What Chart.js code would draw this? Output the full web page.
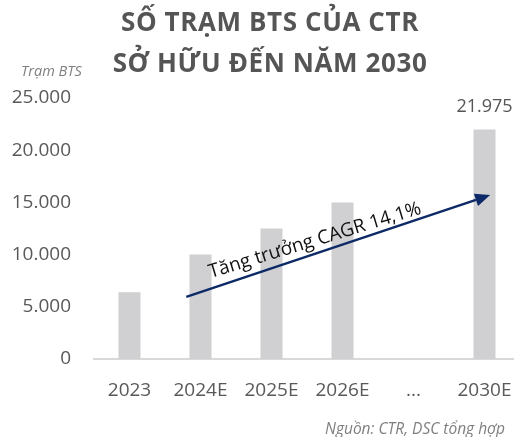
<!DOCTYPE html>
<html>
<head>
<meta charset="utf-8">
<script src="https://cdn.jsdelivr.net/npm/chart.js@4.4.1/dist/chart.umd.min.js"></script>
<style>
  html, body { margin: 0; padding: 0; background: #fff; overflow: hidden; }
  #wrap { position: relative; width: 514px; height: 437px; overflow: hidden; }
  .t { position: absolute; font-family: "Open Sans", sans-serif; white-space: nowrap; }
  #title { left: 0; width: 540px; top: 1px; text-align: center; font-weight: 700; font-size: 26px; letter-spacing: 0.6px; line-height: 41px; color: #555; }
  #unit { left: 21px; top: 61px; font-style: italic; font-size: 14.5px; color: #7f7f7f; }
  #src { left: 325px; top: 417px; font-style: italic; font-size: 15.5px; color: #7f7f7f; }
</style>
</head>
<body>
<div id="wrap">
  <canvas id="chart" width="520" height="437"></canvas>
  <div class="t" id="title">SỐ TRẠM BTS CỦA CTR<br>SỞ HỮU ĐẾN NĂM 2030</div>
  <div class="t" id="unit">Trạm BTS</div>
  <div class="t" id="src">Nguồn: CTR, DSC tổng hợp</div>
</div>
<script>
// data
const years = ['2023', '2024E', '2025E', '2026E', '...', '2030E'];
const stations = [6400, 10000, 12500, 15000, null, 21975];
const showLabel = [false, false, false, false, false, true];
const yTicks = [0, 5000, 10000, 15000, 20000, 25000];

// CAGR arrow, in (category index, value) units
const arrowFrom = [0.8, 5950];
const arrowTo = [5.08, 15700];
const arrowText = 'Tăng trưởng CAGR 14,1%';
const textAt = [1.145, 7750];

const fmt = v => String(v).replace(/\B(?=(\d{3})+(?!\d))/g, '.');

const extras = {
  id: 'extras',
  afterDatasetsDraw(chart) {
    const ctx = chart.ctx;
    const x = chart.scales.x, y = chart.scales.y;
    const meta = chart.getDatasetMeta(0);

    // value label above bar
    ctx.save();
    ctx.font = '18px "Open Sans"';
    ctx.fillStyle = '#555';
    ctx.textAlign = 'center';
    ctx.textBaseline = 'bottom';
    stations.forEach((v, i) => {
      if (!showLabel[i] || v == null) return;
      const bar = meta.data[i];
      ctx.fillText(fmt(v), bar.x, bar.y - 14);
    });
    ctx.restore();

    // arrow
    const x1 = x.getPixelForValue(arrowFrom[0]), y1 = y.getPixelForValue(arrowFrom[1]);
    const x2 = x.getPixelForValue(arrowTo[0]), y2 = y.getPixelForValue(arrowTo[1]);
    const ang = Math.atan2(y2 - y1, x2 - x1);
    const head = 15, half = 6.5;
    ctx.save();
    ctx.strokeStyle = '#0c2a68';
    ctx.fillStyle = '#0c2a68';
    ctx.lineWidth = 2.5;
    ctx.beginPath();
    ctx.moveTo(x1, y1);
    ctx.lineTo(x2 - Math.cos(ang) * head, y2 - Math.sin(ang) * head);
    ctx.stroke();
    ctx.translate(x2, y2);
    ctx.rotate(ang);
    ctx.beginPath();
    ctx.moveTo(0, 0);
    ctx.lineTo(-head, -half);
    ctx.lineTo(-head, half);
    ctx.closePath();
    ctx.fill();
    ctx.restore();

    // rotated text
    ctx.save();
    ctx.translate(x.getPixelForValue(textAt[0]), y.getPixelForValue(textAt[1]));
    ctx.rotate(-17 * Math.PI / 180);
    ctx.font = '19px "Open Sans"';
    ctx.fillStyle = '#111';
    ctx.textAlign = 'left';
    ctx.textBaseline = 'alphabetic';
    ctx.fillText(arrowText, 0, 0);
    ctx.restore();
  }
};

new Chart(document.getElementById('chart'), {
  type: 'bar',
  data: {
    labels: years,
    datasets: [{
      data: stations,
      backgroundColor: '#d0cfd1',
      barPercentage: 0.31,
      categoryPercentage: 1
    }]
  },
  options: {
    responsive: false,
    animation: false,
    layout: { padding: { top: 98, left: 0, right: 0, bottom: 0 } },
    plugins: { legend: { display: false }, tooltip: { enabled: false } },
    scales: {
      x: {
        grid: { display: false, drawTicks: false },
        border: { display: true, color: '#d9d9d9', width: 2 },
        ticks: { color: '#595959', font: { family: 'Open Sans', size: 19 }, padding: 20, maxRotation: 0, autoSkip: false },
        afterFit(s) { s.height = 78; s.paddingRight = 0; s.paddingLeft = 0; }
      },
      y: {
        min: 0,
        max: 25000,
        afterBuildTicks(s) { s.ticks = yTicks.map(v => ({ value: v })); },
        grid: { display: false, drawTicks: false },
        border: { display: false },
        ticks: { color: '#595959', font: { family: 'Open Sans', size: 19 }, padding: 23, callback: v => fmt(v) },
        afterFit(s) { s.width = 94; }
      }
    }
  },
  plugins: [extras]
});
</script>
</body>
</html>
